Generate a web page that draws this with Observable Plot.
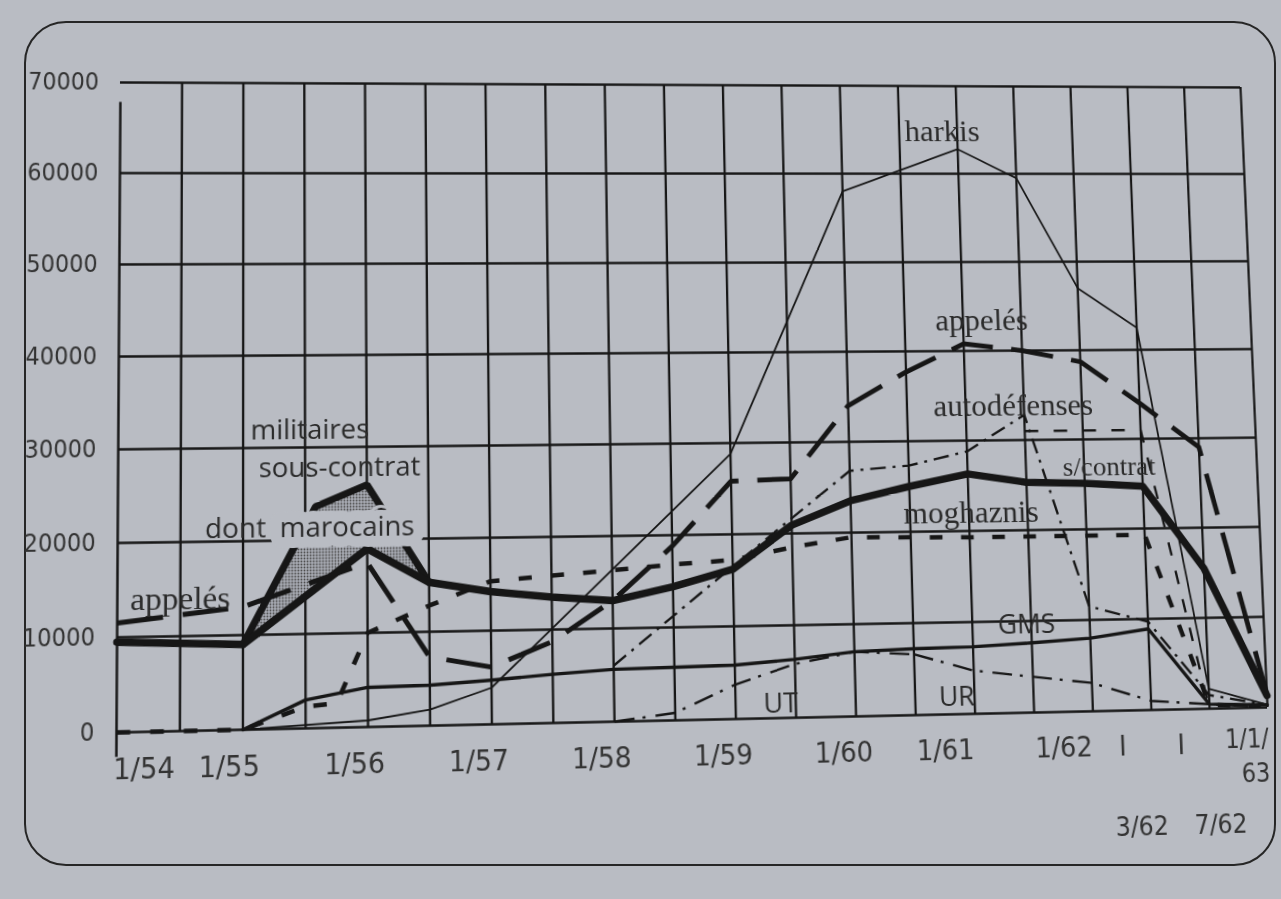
<!DOCTYPE html>
<html><head><meta charset="utf-8">
<script src="https://cdn.jsdelivr.net/npm/d3@7"></script>
<script src="https://cdn.jsdelivr.net/npm/@observablehq/plot@0.6"></script>
<style>
html,body{margin:0;padding:0;background:#b9bcc3;overflow:hidden;width:1281px;height:899px;}
#frame{position:absolute;left:24px;top:21px;width:1252px;height:845px;border:2.5px solid #262626;border-radius:42px;box-sizing:border-box;}
#chart{position:absolute;left:0;top:0;width:1281px;height:899px;}
#chart svg{position:absolute;left:0;top:0;transform-origin:0 0;}
</style></head><body>
<div id="frame"></div>
<div id="chart"></div>
<script>
// ---------- DATA ----------
const yTicks = [0, 10000, 20000, 30000, 40000, 50000, 60000, 70000];
const gridDates = ["1954-07","1955-01","1955-07","1956-01","1956-07","1957-01","1957-07","1958-01","1958-07",
  "1959-01","1959-07","1960-01","1960-07","1961-01","1961-07","1962-01","1962-03","1962-07","1963-01"];

const xLabelsA = ["1/55","1/56","1/57","1/58","1/59","1/60"];
const xLabelsADates = ["1955-01","1956-01","1957-01","1958-01","1959-01","1960-01"];
const xLabelsB = ["1/61","1/62","I","I"];
const xLabelsBDates = ["1961-01","1962-01","1962-03","1962-07"];
const xLabelFirst = ["1/54"], xLabelFirstDates = ["1954-01"];
const xLabelLast = ["1/1/"], xLabelLast2 = ["63"], xLabelLastDates = ["1963-01"];
const captionA = ["3/62"], captionADates = ["1962-03"];
const captionB = ["7/62"], captionBDates = ["1962-07"];

const harkisDates  = ["1955-01","1956-01","1956-07","1957-01","1959-01","1960-01","1961-01","1961-07","1962-01","1962-03","1962-07","1963-01"];
const harkisValues = [0, 700, 1700, 3900, 28800, 58000, 62800, 59500, 47000, 42500, 2200, 300];

const appelesDates  = ["1954-01","1955-01","1956-01","1956-07","1957-01","1957-07","1958-01","1958-07","1959-01","1959-07","1960-01","1960-07","1961-01","1961-07","1962-01","1962-03","1962-07","1963-01"];
const appelesValues = [11500, 13000, 17500, 7300, 6100, 8700, 13000, 18800, 25800, 26000, 34000, 37700, 40800, 40000, 38700, 34000, 29000, 1500];

const sContratDates  = ["1954-01","1955-01","1956-01","1956-07","1957-01","1957-07","1958-01","1958-07","1959-01","1959-07","1960-01","1960-07","1961-01","1961-07","1962-01","1962-03","1962-07","1963-01"];
const sContratValues = [9500, 9000, 19000, 15300, 14200, 13500, 13000, 14400, 16200, 20900, 23500, 25000, 26300, 25300, 25100, 24700, 15500, 1300];

const militairesDates  = ["1955-01","1955-08","1956-01","1956-07"];
const militairesValues = [9000, 23600, 25900, 15300];
// lower edge of the "dont marocains" band: points of the s/contrat series
const marocainsLowerIdx = [1, 2, 2, 3];

const gmsDates  = ["1955-01","1955-07","1956-01","1956-07","1957-01","1957-07","1958-01","1958-07","1959-01","1959-07","1960-01","1960-07","1961-01","1961-07","1962-01","1962-03","1962-07","1963-01"];
const gmsValues = [0, 3000, 4200, 4300, 4700, 5200, 5600, 5700, 5800, 6300, 7000, 7200, 7300, 7600, 8000, 8900, 500, 300];

const moghDates  = ["1954-01","1955-01","1955-07","1955-10","1956-01","1956-07","1957-01","1957-07","1958-01","1958-07","1959-01","1959-07","1960-01","1961-01","1962-01","1962-03","1962-07","1963-01"];
const moghValues = [0, 0, 2300, 2600, 10000, 12800, 15300, 15800, 16300, 16800, 17200, 18500, 19500, 19300, 19300, 19300, 400, 200];

const autoDates  = ["1958-01","1959-01","1960-01","1960-07","1961-01","1961-07","1962-01","1962-03","1962-07","1963-01"];
const autoValues = [6000, 16500, 26800, 27300, 28800, 32800, 11500, 9700, 1500, 300];

const autoFlatDates  = ["1961-07","1962-01","1962-03","1962-07"];
const autoFlatValues = [31000, 31000, 31000, 0];

const utDates  = ["1958-01","1958-07","1959-01","1959-07","1960-01","1960-07"];
const utValues = [0, 800, 3700, 5800, 7000, 6600];
const urDates  = ["1960-07","1961-01","1962-01","1962-03","1962-07","1963-01"];
const urValues = [6600, 4700, 3100, 1000, 500, 0];

const serifLabels  = ["harkis","appelés","autodéfenses","moghaznis","appelés"];
const serifLabelX  = [1960.87, 1961.16, 1961.41, 1961.02, 1954.5];
const serifLabelY  = [64800, 43400, 33800, 22000, 14000];
const smallSerifLabels = ["s/contrat"], smallSerifX = [1962.072], smallSerifY = [26900];
const sansLabels = ["militaires","sous-contrat","dont","GMS","UT","UR"];
const sansLabelX = [1955.54, 1955.78, 1954.94, 1961.46, 1959.375, 1960.85];
const sansLabelY = [31800, 27800, 21300, 9600, 1500, 1800];
const haloLabels = ["marocains"], haloLabelX = [1955.84], haloLabelY = [21300];

// ---------- HELPERS ----------
const toYear = s => { const [y, m] = s.split("-").map(Number); return y + (m - 1) / 12; };
const rows = (dates, values) => dates.map((d, i) => ({x: toYear(d), y: values[i]}));

const W = 1281, H = 899, ML = 118, MR = 18, MT = 82, MB = 166;
const cell = (W - ML - MR) / 19;
const X_BREAKS = [1954, 1962, 1962 + 2/12, 1962 + 6/12, 1963];
const X_STEPS = [0, 16, 17, 18, 19];
const INK = "#161616", PAPER = "#b9bcc3", TXT = "#2a2a2a";
const SERIF = "Liberation Serif, DejaVu Serif, serif";
const SANS = "Open Sans, Lato, sans-serif";
const TICKF = "Liberation Sans Narrow, DejaVu Sans Condensed, Open Sans, sans-serif";

const bandRows = militairesDates.map((d, i) => ({
  xu: toYear(d), yu: militairesValues[i],
  xl: toYear(sContratDates[marocainsLowerIdx[i]]), yl: sContratValues[marocainsLowerIdx[i]]
}));

const svg = Plot.plot({
  width: W, height: H,
  marginLeft: ML, marginRight: MR, marginTop: MT, marginBottom: MB,
  style: {background: "transparent", overflow: "visible"},
  x: {type: "linear", domain: X_BREAKS, range: X_STEPS.map(k => ML + k * cell), axis: null},
  y: {domain: [0, 70000], range: [H - MB, MT], axis: null},
  marks: [
    Plot.ruleY(yTicks, {y: d => d, x1: 1954, x2: 1963, stroke: INK, strokeWidth: 2.3}),
    Plot.ruleX(gridDates.map(toYear), {x: d => d, y1: 0, y2: 70000, stroke: INK, strokeWidth: 2.3}),
    Plot.ruleX([1954], {x: d => d, y1: -2600, y2: 67800, stroke: INK, strokeWidth: 2.4}),
    Plot.area(bandRows, {x1: "xl", y1: "yl", x2: "xu", y2: "yu", fill: "url(#dots)"}),
    // series
    Plot.line(rows(utDates, utValues), {x: "x", y: "y", stroke: INK, strokeWidth: 2.4, strokeDasharray: "20,8,3,10", strokeLinecap: "butt"}),
    Plot.line(rows(urDates, urValues), {x: "x", y: "y", stroke: INK, strokeWidth: 2.4, strokeDasharray: "20,8,3,10", strokeLinecap: "butt"}),
    Plot.line(rows(autoDates, autoValues), {x: "x", y: "y", stroke: INK, strokeWidth: 2.4, strokeDasharray: "16,7,3,7", strokeLinecap: "butt"}),
    Plot.line(rows(autoFlatDates, autoFlatValues), {x: "x", y: "y", stroke: INK, strokeWidth: 2.4, strokeDasharray: "14,16", strokeLinecap: "butt"}),
    Plot.line(rows(moghDates, moghValues), {x: "x", y: "y", stroke: INK, strokeWidth: 4.5, strokeDasharray: "13,19", strokeLinecap: "butt"}),
    Plot.line(rows(gmsDates, gmsValues), {x: "x", y: "y", stroke: INK, strokeWidth: 3.4}),
    Plot.line(rows(harkisDates, harkisValues), {x: "x", y: "y", stroke: INK, strokeWidth: 1.8}),
    Plot.line(rows(appelesDates, appelesValues), {x: "x", y: "y", stroke: INK, strokeWidth: 5, strokeDasharray: "44,19", strokeLinecap: "butt"}),
    Plot.line(rows(militairesDates, militairesValues), {x: "x", y: "y", stroke: INK, strokeWidth: 7, strokeLinejoin: "miter"}),
    Plot.line(rows(sContratDates, sContratValues), {x: "x", y: "y", stroke: INK, strokeWidth: 7.5}),
    // label with paper halo ("dont marocains")
    Plot.text(haloLabels, {x: haloLabelX, y: haloLabelY, text: d => d, fontFamily: SANS, fontSize: 27, fill: TXT, stroke: PAPER, strokeWidth: 22, lineAnchor: "middle"}),
    Plot.text(serifLabels, {x: serifLabelX, y: serifLabelY, text: d => d, fontFamily: SERIF, fontSize: 32, fill: TXT, lineAnchor: "middle"}),
    Plot.text(smallSerifLabels, {x: smallSerifX, y: smallSerifY, text: d => d, fontFamily: SERIF, fontSize: 28, fill: TXT, lineAnchor: "middle"}),
    Plot.text(sansLabels, {x: sansLabelX, y: sansLabelY, text: d => d, fontFamily: SANS, fontSize: 27, fill: TXT, lineAnchor: "middle"}),
    // tick labels
    Plot.text(yTicks, {y: d => d, text: d => String(d), frameAnchor: "left", dx: -21, textAnchor: "end", lineAnchor: "middle", fontFamily: TICKF, fontSize: 24, fill: "#333"}),
    Plot.text(xLabelFirst, {x: xLabelFirstDates.map(toYear), text: d => d, frameAnchor: "bottom", dy: 36, dx: -3, textAnchor: "start", lineAnchor: "middle", fontFamily: TICKF, fontSize: 29, fill: "#333"}),
    Plot.text(xLabelsA, {x: xLabelsADates.map(toYear), text: d => d, frameAnchor: "bottom", dy: 36, dx: -13, lineAnchor: "middle", fontFamily: TICKF, fontSize: 29, fill: "#333"}),
    Plot.text(xLabelsB, {x: xLabelsBDates.map(toYear), text: d => d, frameAnchor: "bottom", dy: 36, dx: -31, lineAnchor: "middle", fontFamily: TICKF, fontSize: 29, fill: "#333"}),
    Plot.text(xLabelLast, {x: xLabelLastDates.map(toYear), text: d => d, frameAnchor: "bottom", dy: 32, dx: 0, textAnchor: "end", lineAnchor: "middle", fontFamily: TICKF, fontSize: 26, fill: "#333"}),
    Plot.text(xLabelLast2, {x: xLabelLastDates.map(toYear), text: d => d, frameAnchor: "bottom", dy: 67, dx: 0, textAnchor: "end", lineAnchor: "middle", fontFamily: TICKF, fontSize: 26, fill: "#333"}),
    Plot.text(captionA, {x: captionADates.map(toYear), text: d => d, frameAnchor: "bottom", dy: 118, dx: -14, lineAnchor: "middle", fontFamily: TICKF, fontSize: 27, fill: "#333"}),
    Plot.text(captionB, {x: captionBDates.map(toYear), text: d => d, frameAnchor: "bottom", dy: 118, dx: 7, lineAnchor: "middle", fontFamily: TICKF, fontSize: 27, fill: "#333"})
  ]
});

// dotted fill pattern for the "dont marocains" band
const defs = d3.select(svg).insert("defs", ":first-child");
const pat = defs.append("pattern").attr("id", "dots").attr("patternUnits", "userSpaceOnUse").attr("width", 3).attr("height", 3);
pat.append("rect").attr("width", 3).attr("height", 3).attr("fill", "#a9acb4");
pat.append("circle").attr("cx", 1.5).attr("cy", 1.5).attr("r", 0.9).attr("fill", "#4a4a4a");

document.getElementById("chart").appendChild(svg);

// perspective of the photographed page: map the plot frame corners onto the photo's grid corners
function homography(src, dst) {
  const A = [], b = [];
  for (let i = 0; i < 4; i++) {
    const [x, y] = src[i], [X, Y] = dst[i];
    A.push([x, y, 1, 0, 0, 0, -x * X, -y * X]); b.push(X);
    A.push([0, 0, 0, x, y, 1, -x * Y, -y * Y]); b.push(Y);
  }
  const n = 8;
  for (let c = 0; c < n; c++) {
    let p = c;
    for (let r = c + 1; r < n; r++) if (Math.abs(A[r][c]) > Math.abs(A[p][c])) p = r;
    [A[c], A[p]] = [A[p], A[c]]; [b[c], b[p]] = [b[p], b[c]];
    for (let r = 0; r < n; r++) {
      if (r === c) continue;
      const f = A[r][c] / A[c][c];
      for (let k = c; k < n; k++) A[r][k] -= f * A[c][k];
      b[r] -= f * b[c];
    }
  }
  return b.map((v, i) => v / A[i][i]);
}
const src = [[ML, MT], [W - MR, MT], [ML, H - MB], [W - MR, H - MB]];
const dst = [[120, 82], [1240, 87], [116, 732], [1267, 707]];
const h = homography(src, dst);
svg.style.transform = `matrix3d(${h[0]},${h[3]},0,${h[6]},${h[1]},${h[4]},0,${h[7]},0,0,1,0,${h[2]},${h[5]},0,1)`;
</script></body></html>
